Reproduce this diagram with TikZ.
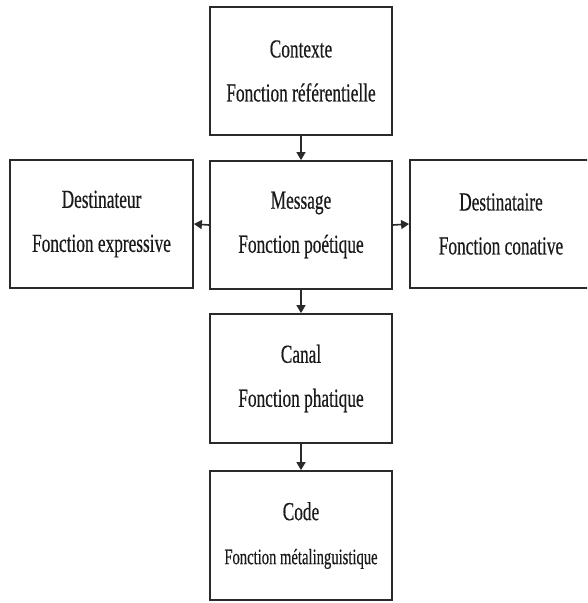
\documentclass[tikz,border=0pt]{standalone}
\usepackage{fontspec}
\setmainfont{Liberation Serif}[FakeStretch=0.665,FakeBold=0.4]
\usetikzlibrary{arrows.meta}
\definecolor{boxline}{HTML}{2A2A2A}
\definecolor{txt}{HTML}{1A1A1A}
\tikzset{
  fbox/.style={draw=boxline, line width=1.8pt, minimum width=182pt, minimum height=128pt,
    inner sep=0pt, align=center, text=txt, font=\fontsize{26}{44}\selectfont},
  conn/.style={draw=boxline, line width=1.6pt, -{Triangle[length=8pt,width=9pt]}}
}
\begin{document}
\begin{tikzpicture}[x=1pt,y=-1pt]
\useasboundingbox (0,0) rectangle (587,603);
\clip (0,0) rectangle (587,603);
\fill[white] (0,0) rectangle (587,603);
\node[fbox] (ctx) at (301,71) {Contexte\\Fonction référentielle};
\node[fbox] (msg) at (301,225) {Message\\Fonction poétique};
\node[fbox, minimum width=183pt] (dst) at (101.5,224) {Destinateur\\Fonction expressive};
\node[fbox] (dsr) at (501,224) {Destinataire\\Fonction conative};
\node[fbox, minimum height=129pt] (can) at (301,378.5) {Canal\\Fonction phatique};
\node[fbox, minimum height=129pt] (cod) at (301,535.5) {Code\\{\fontsize{22}{44}\selectfont Fonction métalinguistique}};
\draw[conn] (ctx.south) -- (msg.north);
\draw[conn] (msg.west) -- (dst.east);
\draw[conn] (msg.east) -- (dsr.west);
\draw[conn] (msg.south) -- (can.north);
\draw[conn] (can.south) -- (cod.north);
\end{tikzpicture}
\end{document}
